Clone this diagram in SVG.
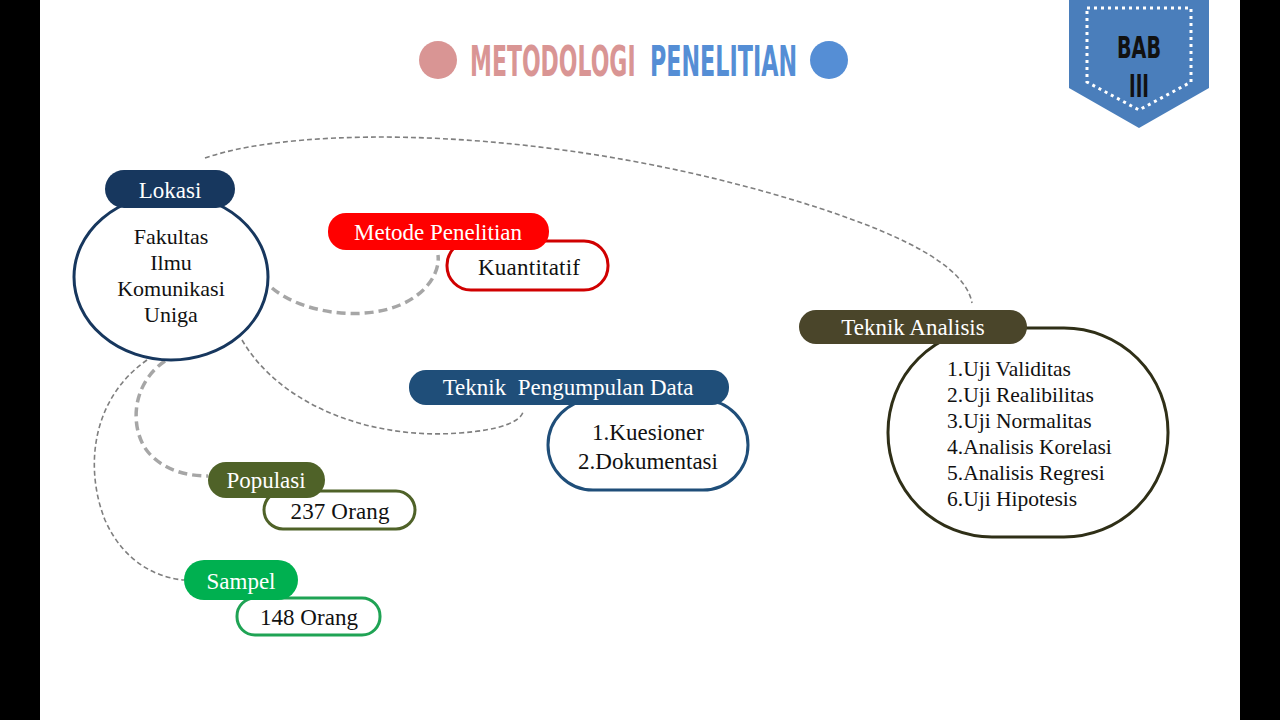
<svg xmlns="http://www.w3.org/2000/svg" width="1280" height="720" viewBox="0 0 1280 720">
<style>
.t{font-family:"Liberation Serif","Times New Roman",serif;font-size:23px;fill:#111;text-anchor:middle}
.c{font-size:22px}
.l{text-anchor:start;font-size:21.5px}
.w{fill:#fff}
.title{font-family:"DejaVu Sans Condensed","Liberation Sans",sans-serif;font-weight:bold;font-size:42px}
.thin{fill:none;stroke:#7f7f7f;stroke-width:1.6;stroke-dasharray:5 3}
.thick{fill:none;stroke:#a6a6a6;stroke-width:3.5;stroke-dasharray:9 5}
</style>
<rect width="1280" height="720" fill="#fff"/>
<rect x="0" y="0" width="40" height="720" fill="#000"/>
<rect x="1240" y="0" width="40" height="720" fill="#000"/>

<g id="title">
<circle cx="438" cy="60" r="19" fill="#d99594"/>
<circle cx="829" cy="60" r="19" fill="#558ed5"/>
<text transform="translate(470,76) scale(0.6,1)" class="title" fill="#d99594" textLength="276" lengthAdjust="spacingAndGlyphs">METODOLOGI</text>
<text transform="translate(650,76) scale(0.6,1)" class="title" fill="#558ed5" textLength="245" lengthAdjust="spacingAndGlyphs">PENELITIAN</text>
</g>

<g id="bab">
<path d="M1069,0 H1209 V88 L1139,128 L1069,88 Z" fill="#4a7ebb"/>
<path d="M1087,8 H1191 V82 L1139,110 L1087,82 Z" fill="none" stroke="#fff" stroke-width="3" stroke-dasharray="3 4"/>
<text x="1139" y="58" font-family="DejaVu Sans Condensed,Liberation Sans,sans-serif" font-weight="bold" font-size="30" text-anchor="middle" fill="#111" textLength="44" lengthAdjust="spacingAndGlyphs">BAB</text>
<text x="1139" y="97" font-family="DejaVu Sans Condensed,Liberation Sans,sans-serif" font-weight="bold" font-size="32" text-anchor="middle" fill="#111" textLength="20" lengthAdjust="spacingAndGlyphs">III</text>
</g>

<g id="connectors">
<path class="thin" d="M205,158 C300,125 550,125 800,202 C900,233 965,265 972,303"/>
<path class="thick" d="M272,288 C300,312 360,322 400,305 C430,292 440,270 438,255"/>
<path class="thin" d="M242,340 C280,405 370,440 460,433 C500,430 520,422 523,412"/>
<path class="thick" d="M165,361 C130,385 130,430 148,452 C165,472 190,476 208,476"/>
<path class="thin" d="M147,360 C90,400 85,470 105,520 C125,565 160,578 184,580"/>
</g>

<g id="lokasi">
<ellipse cx="171" cy="277" rx="97" ry="83" fill="#fff" stroke="#17375e" stroke-width="3"/>
<rect x="105" y="170" width="130" height="38" rx="19" fill="#17375e"/>
<text x="170" y="198" class="t w" font-size="24">Lokasi</text>
<text x="171" y="244" class="t c">Fakultas</text>
<text x="171" y="270" class="t c">Ilmu</text>
<text x="171" y="296" class="t c">Komunikasi</text>
<text x="171" y="322" class="t c">Uniga</text>
</g>

<g id="metode">
<rect x="447" y="241" width="161" height="49" rx="24" fill="#fff" stroke="#d00000" stroke-width="3"/>
<rect x="328" y="213" width="221" height="37" rx="18" fill="#ff0000"/>
<text x="438" y="240" class="t w">Metode Penelitian</text>
<text x="529" y="275" class="t" textLength="102">Kuantitatif</text>
</g>

<g id="pengumpulan">
<rect x="548" y="400" width="200" height="90" rx="45" fill="#fff" stroke="#1f4e79" stroke-width="3"/>
<rect x="409" y="370" width="320" height="35" rx="17" fill="#1f4e79"/>
<text x="568" y="395" class="t w" xml:space="preserve">Teknik  Pengumpulan Data</text>
<text x="648" y="440" class="t">1.Kuesioner</text>
<text x="648" y="469" class="t">2.Dokumentasi</text>
</g>

<g id="analisis">
<rect x="888" y="328" width="280" height="209" rx="104" fill="#fff" stroke="#2f2f17" stroke-width="3"/>
<rect x="799" y="310" width="228" height="34" rx="17" fill="#4a452a"/>
<text x="913" y="335" class="t w">Teknik Analisis</text>
<text x="947" y="376" class="t l">1.Uji Validitas</text>
<text x="947" y="402" class="t l">2.Uji Realibilitas</text>
<text x="947" y="428" class="t l">3.Uji Normalitas</text>
<text x="947" y="454" class="t l">4.Analisis Korelasi</text>
<text x="947" y="480" class="t l">5.Analisis Regresi</text>
<text x="947" y="506" class="t l">6.Uji Hipotesis</text>
</g>

<g id="populasi">
<rect x="264" y="491" width="151" height="38" rx="19" fill="#fff" stroke="#4f6228" stroke-width="3"/>
<rect x="208" y="462" width="117" height="36" rx="18" fill="#4f6228"/>
<text x="266" y="488" class="t w">Populasi</text>
<text x="340" y="519" class="t" textLength="99">237 Orang</text>
</g>

<g id="sampel">
<rect x="237" y="598" width="143" height="37" rx="18" fill="#fff" stroke="#1fa354" stroke-width="3"/>
<rect x="184" y="560" width="114" height="40" rx="20" fill="#00b050"/>
<text x="241" y="589" class="t w">Sampel</text>
<text x="309" y="625" class="t" textLength="98">148 Orang</text>
</g>
</svg>
